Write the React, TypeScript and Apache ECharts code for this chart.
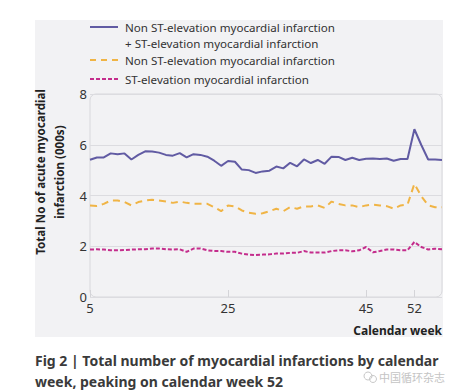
import React, { useEffect, useRef } from "react";
import * as echarts from "echarts";

const weeks = [5,6,7,8,9,10,11,12,13,14,15,16,17,18,19,20,21,22,23,24,25,26,27,28,29,30,31,32,33,34,35,36,37,38,39,40,41,42,43,44,45,46,47,48,49,50,51,52,53,54,55,56];
const totalMI = [5.41,5.50,5.50,5.66,5.63,5.66,5.42,5.60,5.74,5.73,5.69,5.60,5.57,5.67,5.50,5.63,5.60,5.53,5.37,5.17,5.36,5.33,5.02,5.00,4.89,4.95,4.98,5.14,5.07,5.29,5.15,5.42,5.28,5.40,5.25,5.53,5.52,5.40,5.49,5.40,5.45,5.46,5.44,5.46,5.37,5.44,5.44,6.61,5.99,5.42,5.42,5.40];
const nstemi = [3.61,3.59,3.67,3.80,3.80,3.74,3.61,3.74,3.80,3.83,3.80,3.76,3.71,3.76,3.71,3.67,3.67,3.67,3.54,3.38,3.61,3.57,3.41,3.32,3.28,3.30,3.38,3.48,3.38,3.54,3.48,3.57,3.57,3.61,3.51,3.76,3.67,3.61,3.61,3.54,3.61,3.64,3.61,3.58,3.48,3.61,3.64,4.46,3.97,3.61,3.54,3.54];
const stemi = [1.87,1.88,1.87,1.84,1.84,1.85,1.87,1.88,1.88,1.91,1.91,1.88,1.87,1.88,1.78,1.91,1.91,1.84,1.81,1.81,1.78,1.78,1.71,1.67,1.65,1.67,1.68,1.71,1.71,1.74,1.74,1.81,1.75,1.75,1.75,1.81,1.84,1.84,1.80,1.84,1.97,1.76,1.81,1.87,1.87,1.84,1.84,2.17,1.97,1.87,1.90,1.88];
const xTickValues = [5, 25, 45, 52];
const legendLabels = [
  "Non ST-elevation myocardial infarction\n+ ST-elevation myocardial infarction",
  "Non ST-elevation myocardial infarction",
  "ST-elevation myocardial infarction",
];
const yAxisTitle = "Total No of acute myocardial\ninfarction (000s)";
const xAxisTitle = "Calendar week";
const captionLines = [
  "Fig 2 | Total number of myocardial infarctions by calendar",
  "week, peaking on calendar week 52",
];
const watermark = "中国循环杂志";

const COLORS = ["#615ba3", "#f0b445", "#c42d8c"];
const FONT = "'Noto Sans', 'Open Sans', sans-serif";

export default function App() {
  const ref = useRef<HTMLDivElement>(null);
  useEffect(() => {
    if (!ref.current) return;
    const chart = echarts.init(ref.current, null, { renderer: "svg" });
    const toPairs = (arr: number[]) => arr.map((v, i) => [weeks[i], v]);
    chart.setOption({
      animation: false,
      backgroundColor: "#ffffff",
      textStyle: { fontFamily: FONT },
      grid: { left: 90, right: 16, top: 94, bottom: 94 },
      xAxis: {
        type: "value",
        min: 5,
        max: 56,
        axisLine: { show: false },
        splitLine: { show: false },
        axisTick: {
          show: true,
          inside: true,
          length: 7,
          customValues: xTickValues,
          lineStyle: { color: "#d4d4d8" },
        },
        axisLabel: {
          customValues: xTickValues,
          color: "#333",
          fontSize: 13,
          margin: 4,
          fontFamily: FONT,
        },
      },
      yAxis: {
        type: "value",
        min: 0,
        max: 8,
        interval: 2,
        axisLine: { show: false },
        axisTick: { show: false },
        splitLine: { show: true, lineStyle: { color: "#dcdce0", width: 1 } },
        axisLabel: { color: "#333", fontSize: 13, margin: 3, fontFamily: FONT },
      },
      series: [
        {
          type: "line",
          name: legendLabels[0],
          data: toPairs(totalMI),
          showSymbol: false,
          lineStyle: { color: COLORS[0], width: 2 },
          z: 5,
        },
        {
          type: "line",
          name: legendLabels[1],
          data: toPairs(nstemi),
          showSymbol: false,
          lineStyle: { color: COLORS[1], width: 2, type: [7, 5] },
          z: 4,
        },
        {
          type: "line",
          name: legendLabels[2],
          data: toPairs(stemi),
          showSymbol: false,
          lineStyle: { color: COLORS[2], width: 2, type: [4, 2] },
          z: 3,
        },
      ],
      graphic: [
        {
          type: "rect",
          z: -10,
          silent: true,
          shape: { x: 35, y: 20, width: 408, height: 317 },
          style: { fill: "#f2f2f4" },
        },
        {
          type: "rect",
          z: -5,
          silent: true,
          shape: { x: 90, y: 94, width: 352, height: 203, r: 6 },
          style: { fill: "none", stroke: "#d8d8dc", lineWidth: 1 },
        },
        // legend
        { type: "line", shape: { x1: 90, y1: 27, x2: 118, y2: 27 }, style: { stroke: COLORS[0], lineWidth: 2 } },
        { type: "line", shape: { x1: 90, y1: 60, x2: 118, y2: 60 }, style: { stroke: COLORS[1], lineWidth: 2, lineDash: [6, 5] } },
        { type: "line", shape: { x1: 90, y1: 79, x2: 118, y2: 79 }, style: { stroke: COLORS[2], lineWidth: 2, lineDash: [4, 2] } },
        {
          type: "text",
          x: 125,
          y: 19,
          style: { text: legendLabels[0], fill: "#333", font: `11.6px ${FONT}`, lineHeight: 16, verticalAlign: "top" },
        },
        {
          type: "text",
          x: 125,
          y: 60,
          style: { text: legendLabels[1], fill: "#333", font: `11.6px ${FONT}`, verticalAlign: "middle" },
        },
        {
          type: "text",
          x: 125,
          y: 79,
          style: { text: legendLabels[2], fill: "#333", font: `11.6px ${FONT}`, verticalAlign: "middle" },
        },
        {
          type: "text",
          x: 50,
          y: 172,
          rotation: Math.PI / 2,
          style: {
            text: yAxisTitle,
            fill: "#222",
            font: `bold 11.6px ${FONT}`,
            lineHeight: 19,
            align: "center",
            verticalAlign: "middle",
          },
        },
        {
          type: "text",
          x: 442,
          y: 330,
          style: { text: xAxisTitle, fill: "#222", font: `bold 12px ${FONT}`, align: "right", verticalAlign: "middle" },
        },
        {
          type: "text",
          x: 35,
          y: 360,
          style: { text: captionLines[0], fill: "#3a3a3a", font: `bold 14px ${FONT}`, verticalAlign: "middle" },
        },
        {
          type: "text",
          x: 35,
          y: 381,
          style: { text: captionLines[1], fill: "#3a3a3a", font: `bold 14px ${FONT}`, verticalAlign: "middle" },
        },
        { type: "circle", shape: { cx: 368, cy: 376, r: 4 }, style: { fill: "none", stroke: "#c8c8c8", lineWidth: 1 } },
        { type: "circle", shape: { cx: 373, cy: 379, r: 3.5 }, style: { fill: "none", stroke: "#c8c8c8", lineWidth: 1 } },
        {
          type: "text",
          x: 379,
          y: 377,
          style: { text: watermark, fill: "#c4c4c4", font: `11px 'Noto Sans CJK SC', sans-serif`, verticalAlign: "middle" },
        },
      ],
    });
    return () => chart.dispose();
  }, []);
  return (
    <div
      ref={ref}
      style={{ position: "fixed", left: 0, top: 0, width: 458, height: 391, background: "#fff" }}
    />
  );
}
